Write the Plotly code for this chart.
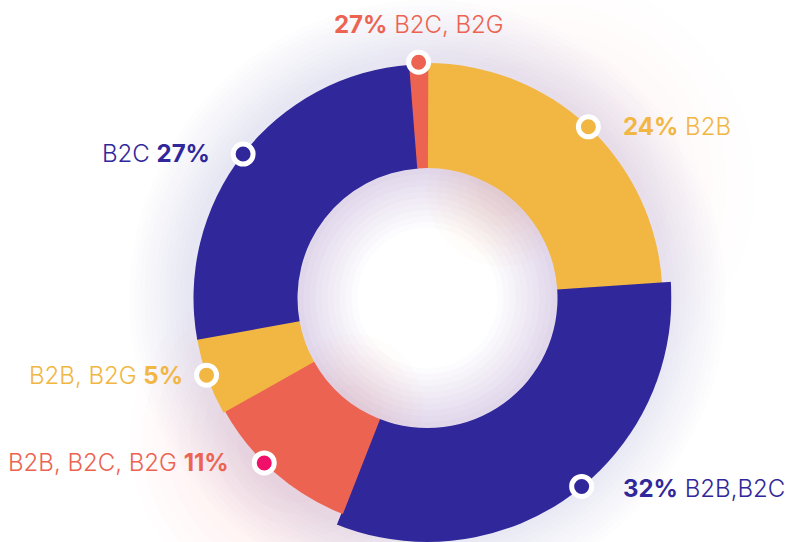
import math
import plotly.graph_objects as go

# ---------------- data ----------------
segments = ["B2B", "B2B,B2C", "B2B, B2C, B2G", "B2B, B2G", "B2C", "B2C, B2G"]
shares = [24.0, 32.0, 10.9, 5.3, 26.6, 1.2]
shown_pct = ["24%", "32%", "11%", "5%", "27%", "27%"]  # percentages printed on labels

# ---------------- style ----------------
W, H = 786, 542
PURPLE = "#30289a"
YELLOW = "#f2b643"
RED = "#ec6352"
MAGENTA = "#f0106a"
seg_color = [YELLOW, PURPLE, RED, YELLOW, PURPLE, RED]
dot_color = [YELLOW, PURPLE, MAGENTA, YELLOW, PURPLE, RED]
outer_r = [235, 246, 232, 234, 234, 236]       # px
HOLE = 130                                     # px
dot_shift = [0, -3.3, 3.5, 0.4, 0.2, 0]        # deg
label_side = ["right", "right", "left", "left", "left", "top"]
label_dx = [33, 38, -33, -22, -31, 0]
TOP_DY = 38

CX, CY = 427.5, 298.0
YD = [0, 0.9]
R_POL = H * (YD[1] - YD[0]) / 2
XD = [(CX - R_POL) / W, (CX + R_POL) / W]

mids, spans = [], []
acc = 0.0
for s in shares:
    deg = s * 3.6
    mids.append(acc + deg / 2)
    spans.append(deg)
    acc += deg

fig = go.Figure()

# ring segments
fig.add_trace(go.Barpolar(
    theta=mids, width=[w + 0.4 for w in spans], base=[HOLE] * len(shares),
    r=[ro - HOLE for ro in outer_r],
    marker=dict(color=seg_color, line=dict(width=0)),
    hovertext=[f"{s}: {p}" for s, p in zip(segments, shown_pct)],
    hoverinfo="text", showlegend=False))

# dots on the outer rim
dot_theta = [m + d for m, d in zip(mids, dot_shift)]
dot_r = [min(ro, R_POL - 0.5) for ro in outer_r]
fig.add_trace(go.Scatterpolar(
    theta=dot_theta, r=dot_r, mode="markers",
    marker=dict(size=20, color=dot_color, line=dict(color="white", width=5)),
    cliponaxis=False, hoverinfo="skip", showlegend=False))

# labels
for i, seg in enumerate(segments):
    th = math.radians(dot_theta[i])
    px = CX + outer_r[i] * math.sin(th)
    py = CY - outer_r[i] * math.cos(th)
    side = label_side[i]
    if side == "left":
        txt = f"{seg} <b>{shown_pct[i]}</b>"
        xa = "right"
    else:
        txt = f"<b>{shown_pct[i]}</b> {seg}"
        xa = "left" if side == "right" else "center"
    fig.add_annotation(
        x=px / W, y=1 - py / H, xref="paper", yref="paper",
        text=txt, showarrow=False, xanchor=xa, yanchor="middle",
        xshift=label_dx[i], yshift=TOP_DY if side == "top" else 0,
        font=dict(family="Inter", size=24, weight=300, color=seg_color[i]))

# glow decoration (drawn beneath the ring)
shapes = []


def circ(cx, cy, r, fill="rgba(0,0,0,0)", line_col=None, lw=0):
    shapes.append(dict(type="circle", xref="paper", yref="paper", layer="below",
                       x0=(cx - r) / W, x1=(cx + r) / W,
                       y0=1 - (cy + r) / H, y1=1 - (cy - r) / H,
                       fillcolor=fill,
                       line=dict(width=lw, color=line_col or "rgba(0,0,0,0)")))


def pt(angle_deg, r):
    a = math.radians(angle_deg)
    return CX + r * math.sin(a), CY - r * math.cos(a)


for i in range(12):
    circ(CX, CY, 298 - 5 * i, "rgba(80,70,175,0.012)")
for i in range(10):
    circ(545, 185, 210 - 14 * i, "rgba(245,175,70,0.008)")
for i in range(10):
    circ(300, 440, 170 - 12 * i, "rgba(236,99,82,0.010)")
circ(CX, CY, HOLE + 1, "white")
# inner shadow of the hole
for k in range(1, 11):
    circ(CX, CY, HOLE, line_col="rgba(85,75,175,0.02)", lw=12 * k)
wx, wy = pt(35, HOLE)
for k in range(6):
    circ(wx, wy, 75 - 10 * k, "rgba(245,175,70,0.018)")
rx, ry = pt(215, HOLE)
for k in range(6):
    circ(rx, ry, 70 - 10 * k, "rgba(236,99,82,0.014)")

fig.update_layout(
    width=W, height=H, margin=dict(l=0, r=0, t=0, b=0),
    paper_bgcolor="white", plot_bgcolor="white",
    shapes=shapes,
    polar=dict(
        domain=dict(x=XD, y=YD), bgcolor="rgba(0,0,0,0)",
        barmode="overlay", bargap=0, hole=0,
        angularaxis=dict(rotation=90, direction="clockwise", visible=False,
                         showgrid=False, showline=False, ticks=""),
        radialaxis=dict(range=[0, R_POL], visible=False, showgrid=False,
                        showline=False, ticks=""),
    ),
    showlegend=False,
)

fig.write_html("out.html", config={"displayModeBar": False},
               post_script="document.body.style.margin='0';document.body.style.overflow='hidden';")
